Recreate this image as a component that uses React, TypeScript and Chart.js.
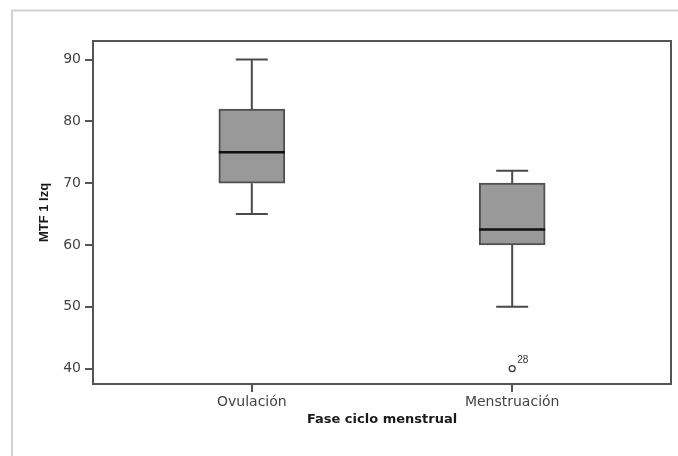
import React, { useEffect, useRef } from "react";
import { Chart, registerables } from "chart.js";

Chart.register(...registerables);

const categories = ["Ovulación", "Menstruación"];
const minValues = [65, 50];
const q1Values = [70, 60];
const medianValues = [75, 62.5];
const q3Values = [82, 70];
const maxValues = [90, 72];
const outlierCategory = [2];
const outlierValues = [40];
const outlierLabels = ["28"];
const yTicks = [40, 50, 60, 70, 80, 90];

const xTitle = "Fase ciclo menstrual";
const yTitle = "MTF 1 Izq";

const boxPlugin = {
  id: "boxParts",
  beforeDraw(chart: any) {
    const ctx = chart.ctx;
    ctx.save();
    ctx.fillStyle = "#ffffff";
    ctx.fillRect(0, 0, chart.width, chart.height);
    ctx.strokeStyle = "#d2d2d2";
    ctx.lineWidth = 2;
    ctx.strokeRect(12, 10.5, chart.width + 20, chart.height + 20);
    ctx.restore();
  },
  afterDatasetsDraw(chart: any) {
    const ctx = chart.ctx;
    const xs = chart.scales.x;
    const ys = chart.scales.y;
    const ca = chart.chartArea;
    ctx.save();
    // whiskers
    ctx.strokeStyle = "#4a4a4a";
    ctx.lineWidth = 2;
    const capHalf = 16;
    categories.forEach((_, i) => {
      const x = xs.getPixelForValue(i + 1);
      const yMin = ys.getPixelForValue(minValues[i]);
      const yQ1 = ys.getPixelForValue(q1Values[i]);
      const yQ3 = ys.getPixelForValue(q3Values[i]);
      const yMax = ys.getPixelForValue(maxValues[i]);
      ctx.beginPath();
      ctx.moveTo(x, yQ1);
      ctx.lineTo(x, yMin);
      ctx.moveTo(x, yQ3);
      ctx.lineTo(x, yMax);
      ctx.moveTo(x - capHalf, yMin);
      ctx.lineTo(x + capHalf, yMin);
      ctx.moveTo(x - capHalf, yMax);
      ctx.lineTo(x + capHalf, yMax);
      ctx.stroke();
    });
    // medians
    const meta = chart.getDatasetMeta(0);
    ctx.strokeStyle = "#111111";
    ctx.lineWidth = 2.5;
    categories.forEach((_, i) => {
      const bar = meta.data[i];
      const half = bar.width / 2;
      const x = xs.getPixelForValue(i + 1);
      const y = ys.getPixelForValue(medianValues[i]);
      ctx.beginPath();
      ctx.moveTo(x - half, y);
      ctx.lineTo(x + half, y);
      ctx.stroke();
    });
    // outlier labels
    ctx.fillStyle = "#333333";
    ctx.font = "10px 'Liberation Sans', Arial, sans-serif";
    ctx.textAlign = "left";
    ctx.textBaseline = "middle";
    outlierValues.forEach((v, i) => {
      const x = xs.getPixelForValue(outlierCategory[i]);
      const y = ys.getPixelForValue(v);
      ctx.fillText(outlierLabels[i], x + 5, y - 8);
    });
    // plot frame
    ctx.strokeStyle = "#555555";
    ctx.lineWidth = 2;
    ctx.strokeRect(ca.left, ca.top, ca.right - ca.left, ca.bottom - ca.top);
    ctx.restore();
  },
};

export default function App() {
  const ref = useRef<HTMLCanvasElement | null>(null);
  useEffect(() => {
    if (!ref.current) return;
    const chart = new Chart(ref.current, {
      type: "bar",
      data: {
        datasets: [
          {
            type: "bar",
            data: categories.map((_, i) => ({ x: i + 1, y: [q1Values[i], q3Values[i]] })) as any,
            backgroundColor: "#999999",
            borderColor: "#505050",
            borderWidth: 2,
            borderSkipped: false,
            barThickness: 66,
          } as any,
          {
            type: "scatter",
            data: outlierValues.map((v, i) => ({ x: outlierCategory[i], y: v })),
            pointRadius: 3,
            pointBackgroundColor: "#ffffff",
            pointBorderColor: "#333333",
            pointBorderWidth: 1.2,
          } as any,
        ],
      },
      options: {
        responsive: false,
        animation: false,
        layout: { padding: { left: 0, right: 7, top: 41, bottom: 0 } },
        plugins: { legend: { display: false }, tooltip: { enabled: false } },
        scales: {
          x: {
            type: "linear",
            min: 0.39,
            max: 2.61,
            offset: false,
            afterBuildTicks: (s: any) => {
              s.ticks = categories.map((_, i) => ({ value: i + 1 }));
            },
            afterFit: (s: any) => {
              s.height = 72;
            },
            ticks: {
              callback: (v: any) => categories[Number(v) - 1] ?? "",
              font: { family: "'DejaVu Sans', sans-serif", size: 14 },
              color: "#444444",
              padding: 2,
              maxRotation: 0,
            },
            grid: {
              display: true,
              offset: false,
              drawOnChartArea: false,
              drawTicks: true,
              tickLength: 8,
              color: "#555555",
              lineWidth: 2,
            },
            border: { display: false },
            title: {
              display: true,
              text: xTitle,
              font: { family: "'DejaVu Sans', sans-serif", size: 13, weight: "bold" },
              color: "#1a1a1a",
              padding: { top: 0, bottom: 29 },
            },
          },
          y: {
            type: "linear",
            min: 37.5,
            max: 93,
            afterBuildTicks: (s: any) => {
              s.ticks = yTicks.map((v) => ({ value: v }));
            },
            afterFit: (s: any) => {
              s.width = 93;
            },
            ticks: {
              font: { family: "'DejaVu Sans', sans-serif", size: 14 },
              color: "#444444",
              padding: 4,
            },
            grid: {
              display: true,
              drawOnChartArea: false,
              drawTicks: true,
              tickLength: 8,
              color: "#555555",
              lineWidth: 2,
            },
            border: { display: false },
            title: {
              display: true,
              text: yTitle,
              font: { family: "'Liberation Sans', Arial, sans-serif", size: 13, weight: "bold" },
              color: "#1a1a1a",
              padding: { top: 37, bottom: 0 },
            },
          },
        },
      },
      plugins: [boxPlugin],
    });
    return () => chart.destroy();
  }, []);
  return (
    <div style={{ position: "absolute", left: 0, top: 0, width: 678, height: 456 }}>
      <canvas ref={ref} width={678} height={456} style={{ display: "block" }} />
    </div>
  );
}
